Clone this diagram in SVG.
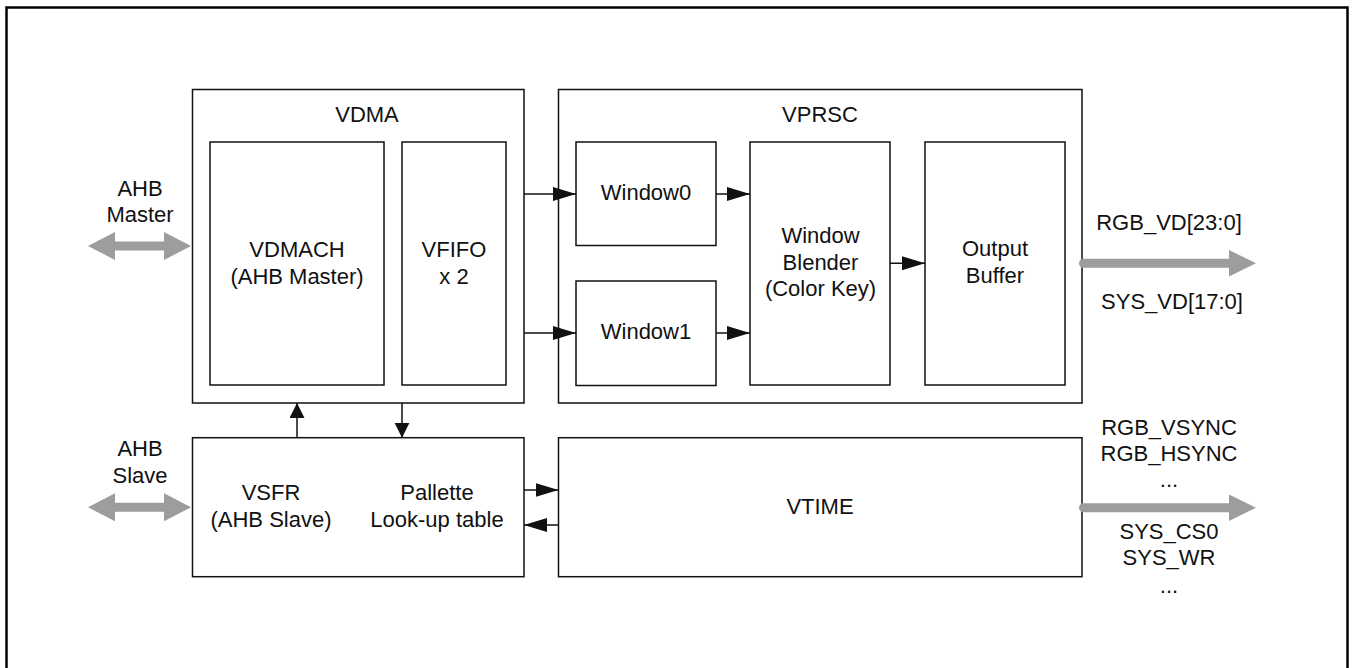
<svg xmlns="http://www.w3.org/2000/svg" width="1355" height="668" viewBox="0 0 1355 668">
<style>
.box{fill:#fff;stroke:#111;stroke-width:1.5}
.t{font-family:"Liberation Sans",Arial,sans-serif;font-size:22px;fill:#111;text-anchor:middle}
.c{stroke:#111;stroke-width:1.5;fill:none}
.g{fill:#9d9d9d}
</style>
<defs>
<marker id="ah" markerUnits="userSpaceOnUse" markerWidth="24" markerHeight="16" refX="23" refY="7" orient="auto"><path d="M0,0 L23,7 L0,14 z" fill="#111"/></marker>
<marker id="av" markerUnits="userSpaceOnUse" markerWidth="16" markerHeight="16" refX="15" refY="7.5" orient="auto"><path d="M0,0 L15,7.5 L0,15 z" fill="#111"/></marker>
</defs>
<rect x="6.5" y="7.5" width="1341" height="700" fill="none" stroke="#000" stroke-width="2.5"/>

<g id="vdma">
<rect class="box" x="192.5" y="89.5" width="331.5" height="313.5"/>
<text class="t" x="367" y="122">VDMA</text>
</g>
<g id="vdmach">
<rect class="box" x="210" y="142" width="174" height="243"/>
<text class="t" x="297" y="257">VDMACH</text>
<text class="t" x="297" y="284">(AHB Master)</text>
</g>
<g id="vfifo">
<rect class="box" x="402" y="142" width="104" height="243"/>
<text class="t" x="454" y="257">VFIFO</text>
<text class="t" x="454" y="284">x 2</text>
</g>
<g id="vprsc">
<rect class="box" x="558.5" y="89.5" width="523.5" height="313.5"/>
<text class="t" x="820" y="122">VPRSC</text>
</g>
<g id="window0">
<rect class="box" x="576" y="142" width="140" height="103.5"/>
<text class="t" x="646" y="199.5">Window0</text>
</g>
<g id="window1">
<rect class="box" x="576" y="281" width="140" height="104.5"/>
<text class="t" x="646" y="339">Window1</text>
</g>
<g id="blender">
<rect class="box" x="750" y="142" width="140" height="243"/>
<text class="t" x="820.5" y="243">Window</text>
<text class="t" x="820.5" y="269.5">Blender</text>
<text class="t" x="820.5" y="295.5">(Color Key)</text>
</g>
<g id="outbuf">
<rect class="box" x="925" y="142" width="140" height="243"/>
<text class="t" x="995" y="256">Output</text>
<text class="t" x="995" y="282.5">Buffer</text>
</g>
<g id="vsfr">
<rect class="box" x="192.5" y="437.7" width="331.5" height="139"/>
<text class="t" x="271" y="500">VSFR</text>
<text class="t" x="271" y="527">(AHB Slave)</text>
<text class="t" x="437" y="500">Pallette</text>
<text class="t" x="437" y="527">Look-up table</text>
</g>
<g id="vtime">
<rect class="box" x="558.5" y="437.7" width="523.5" height="139"/>
<text class="t" x="820" y="514">VTIME</text>
</g>

<g id="ahb-master">
<text class="t" x="140" y="196">AHB</text>
<text class="t" x="140" y="222">Master</text>
<polygon class="g" points="88,246 115,232 115,241.5 164,241.5 164,232 191,246 164,260 164,250.5 115,250.5 115,260"/>
</g>
<g id="ahb-slave">
<text class="t" x="140" y="456">AHB</text>
<text class="t" x="140" y="483">Slave</text>
<polygon class="g" points="88,507.3 115,493.3 115,502.8 164,502.8 164,493.3 191,507.3 164,521.3 164,511.8 115,511.8 115,521.3"/>
</g>
<g id="out-vd">
<text class="t" x="1169" y="230">RGB_VD[23:0]</text>
<text class="t" x="1172" y="309">SYS_VD[17:0]</text>
<line x1="1083.5" y1="263.3" x2="1230" y2="263.3" stroke="#9d9d9d" stroke-width="9" stroke-linecap="round"/>
<polygon class="g" points="1229,250 1256,263.3 1229,276.6"/>
</g>
<g id="out-ctrl">
<text class="t" x="1169" y="435">RGB_VSYNC</text>
<text class="t" x="1169" y="461">RGB_HSYNC</text>
<text class="t" x="1169" y="487">...</text>
<text class="t" x="1169" y="538.5">SYS_CS0</text>
<text class="t" x="1169" y="565">SYS_WR</text>
<text class="t" x="1169" y="592.5">...</text>
<line x1="1083.5" y1="507.7" x2="1230" y2="507.7" stroke="#9d9d9d" stroke-width="9" stroke-linecap="round"/>
<polygon class="g" points="1229,494.4 1256,507.7 1229,521"/>
</g>

<g id="connectors">
<line class="c" x1="524" y1="194" x2="576" y2="194" marker-end="url(#ah)"/>
<line class="c" x1="524" y1="333" x2="576" y2="333" marker-end="url(#ah)"/>
<line class="c" x1="716" y1="194" x2="750" y2="194" marker-end="url(#ah)"/>
<line class="c" x1="716" y1="333" x2="750" y2="333" marker-end="url(#ah)"/>
<line class="c" x1="890" y1="263.3" x2="925" y2="263.3" marker-end="url(#ah)"/>
<line class="c" x1="524" y1="490" x2="558.5" y2="490" marker-end="url(#ah)"/>
<line class="c" x1="558.5" y1="525" x2="524" y2="525" marker-end="url(#ah)"/>
<line class="c" x1="297" y1="437.7" x2="297" y2="403" marker-end="url(#av)"/>
<line class="c" x1="402" y1="403" x2="402" y2="437.7" marker-end="url(#av)"/>
</g>
</svg>
